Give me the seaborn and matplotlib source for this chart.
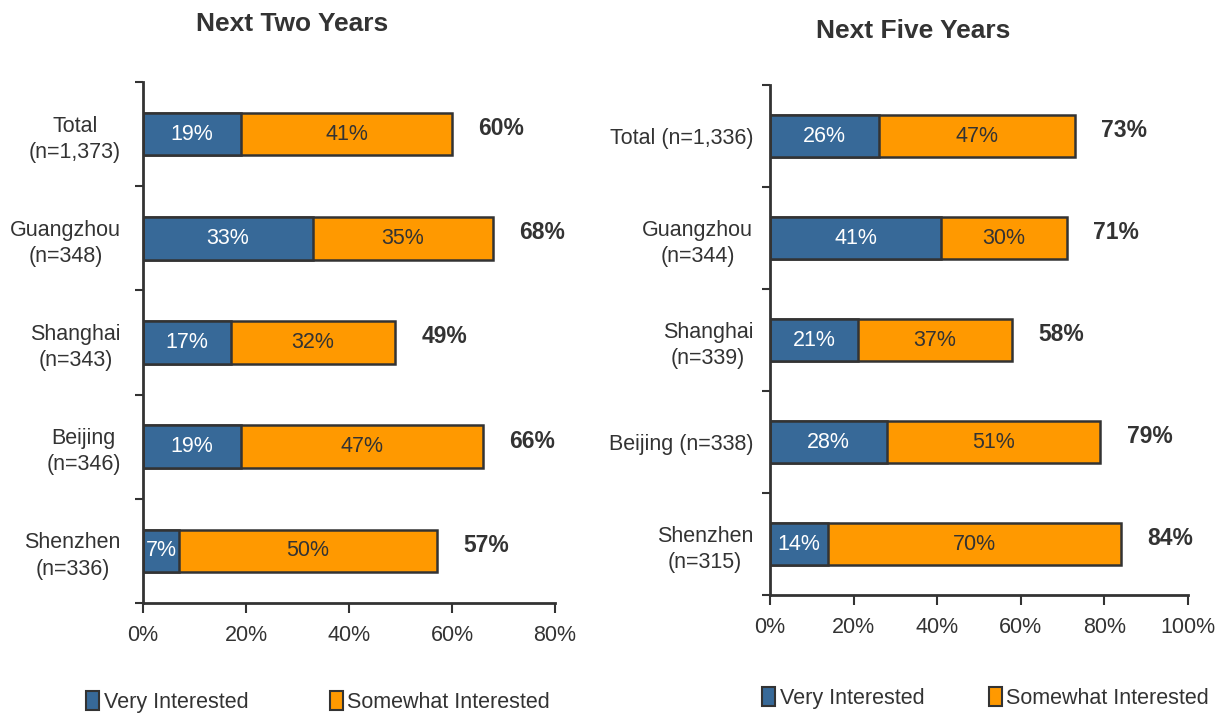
import matplotlib
matplotlib.use("Agg")
import matplotlib.pyplot as plt
import seaborn as sns
from matplotlib.patches import Patch
from matplotlib.ticker import FixedLocator

# data
two_cats = ["Total\n(n=1,373)", "Guangzhou\n(n=348)", "Shanghai\n(n=343)", "Beijing\n(n=346)", "Shenzhen\n(n=336)"]
two_very = [19, 33, 17, 19, 7]
two_some = [41, 35, 32, 47, 50]

five_cats = ["Total (n=1,336)", "Guangzhou\n(n=344)", "Shanghai\n(n=339)", "Beijing (n=338)", "Shenzhen\n(n=315)"]
five_very = [26, 41, 21, 28, 14]
five_some = [47, 30, 37, 51, 70]

BLUE = "#376998"
ORANGE = "#FF9900"
DARK = "#333333"
FS = 15.5

sns.set_theme(style="white")
plt.rcParams["font.family"] = ["Liberation Sans", "DejaVu Sans"]

fig = plt.figure(figsize=(12.29, 7.13), dpi=100)
ax1 = fig.add_axes([0.1164, 0.1543, 0.3352, 0.7307])
ax2 = fig.add_axes([0.6265, 0.1655, 0.3401, 0.7152])


def draw(ax, cats, very, some, xmax, ypad):
    totals = [v + s for v, s in zip(very, some)]
    sns.barplot(x=totals, y=cats, color=ORANGE, saturation=1, width=0.41,
                edgecolor=DARK, linewidth=1.8, ax=ax)
    sns.barplot(x=very, y=cats, color=BLUE, saturation=1, width=0.41,
                edgecolor=DARK, linewidth=1.8, ax=ax)
    for i, (v, s, t) in enumerate(zip(very, some, totals)):
        ax.text(v / 2, i, f"{v}%", ha="center", va="center", color="white", fontsize=FS)
        ax.text(v + s / 2, i, f"{s}%", ha="center", va="center", color=DARK, fontsize=FS)
        ax.annotate(f"{t}%", (t, i), xytext=(19, 4), textcoords="offset points",
                    ha="left", va="center", fontsize=16.5, fontweight="bold", color=DARK)
    ax.set_xlim(0, xmax)
    ax.set_ylim(4.5, -0.5)
    ax.set_xticks(range(0, xmax + 1, 20))
    ax.set_xticklabels([f"{x}%" for x in range(0, xmax + 1, 20)], fontsize=FS, color=DARK)
    ax.yaxis.set_minor_locator(FixedLocator([-0.5, 0.5, 1.5, 2.5, 3.5, 4.5]))
    ax.tick_params(axis="y", which="major", length=0, pad=ypad, labelsize=FS, labelcolor=DARK)
    ax.tick_params(axis="y", which="minor", left=True, length=6, width=1.5, color=DARK)
    ax.tick_params(axis="x", bottom=True, length=7, width=1.5, color=DARK, pad=9)
    for lab in ax.get_yticklabels():
        lab.set_multialignment("center")
        lab.set_linespacing(1.32)
    for sp in ["top", "right"]:
        ax.spines[sp].set_visible(False)
    for sp in ["left", "bottom"]:
        ax.spines[sp].set_color(DARK)
        ax.spines[sp].set_linewidth(2)
    ax.set_xlabel("")
    ax.set_ylabel("")


draw(ax1, two_cats, two_very, two_some, 80, 16)
draw(ax2, five_cats, five_very, five_some, 100, 12)

fig.text(0.238, 0.966, "Next Two Years", ha="center", va="center", fontsize=19, fontweight="bold", color=DARK)
fig.text(0.743, 0.957, "Next Five Years", ha="center", va="center", fontsize=19, fontweight="bold", color=DARK)

handles = [Patch(facecolor=BLUE, edgecolor=DARK, linewidth=1.5, label="Very Interested"),
           Patch(facecolor=ORANGE, edgecolor=DARK, linewidth=1.5, label="Somewhat Interested")]
for x, y, cs in [(0.259, 0.016, 3.8), (0.802, 0.021, 3.0)]:
    fig.legend(handles=handles, loc="center", bbox_to_anchor=(x, y), ncol=2, frameon=False,
               fontsize=FS, handlelength=0.6, handleheight=1.0, handletextpad=0.2,
               columnspacing=cs, labelcolor=DARK)

fig.savefig("out.png", dpi=100)
